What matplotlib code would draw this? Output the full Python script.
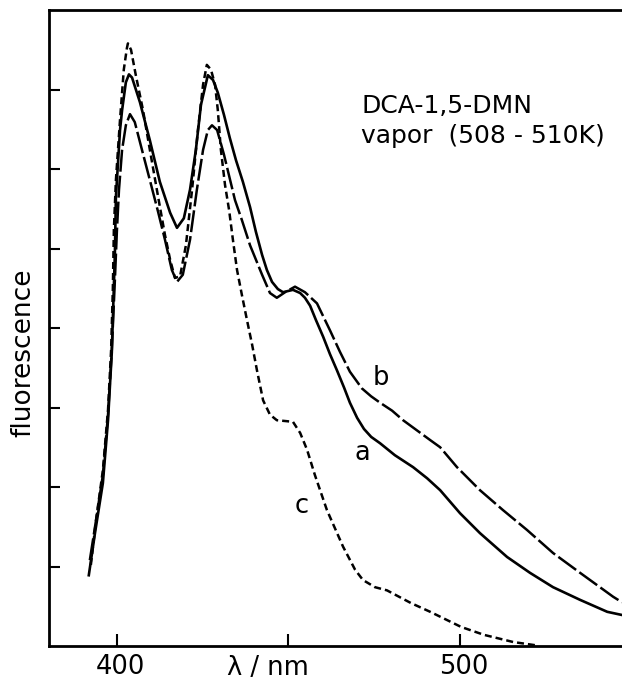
import matplotlib
matplotlib.use("Agg")
import matplotlib.pyplot as plt
import matplotlib.transforms as mtransforms

# ---- data (wavelength in nm, fluorescence in arbitrary units) ----
wl_a = [391.8, 393.6, 395.9, 397.4, 398.5, 399.4, 399.7, 400.9, 401.5, 402.6,
        403.5, 404.4, 406.7, 409.6, 412.5, 415.5, 417.5, 419.5, 421.3, 423.0,
        424.5, 426.5, 428.0, 429.4, 431.2, 432.9, 434.7, 436.7, 438.8, 440.5,
        442.3, 443.7, 445.2, 446.9, 448.4, 451.3, 453.4, 454.8, 456.3, 458.0,
        460.1, 462.1, 464.1, 466.2, 467.9, 470.0, 472.0, 474.1, 476.7, 481.0,
        486.3, 490.4, 494.2, 500.0, 505.8, 513.7, 520.4, 527.1, 535.0, 542.9,
        547.2]
fl_a = [0.89, 1.42, 2.05, 2.84, 3.69, 4.94, 5.65, 6.49, 6.74, 7.09,
        7.19, 7.15, 6.84, 6.36, 5.84, 5.45, 5.26, 5.38, 5.74, 6.24,
        6.81, 7.18, 7.12, 6.96, 6.68, 6.39, 6.11, 5.84, 5.52, 5.21,
        4.92, 4.73, 4.58, 4.49, 4.45, 4.48, 4.44, 4.38, 4.28, 4.10,
        3.89, 3.67, 3.47, 3.25, 3.06, 2.87, 2.73, 2.63, 2.55, 2.40,
        2.25, 2.11, 1.96, 1.67, 1.42, 1.12, 0.92, 0.74, 0.58, 0.43,
        0.39]

wl_b = [392.1, 393.9, 395.9, 397.4, 398.5, 399.4, 400.0, 400.6, 401.5, 402.6,
        403.8, 405.2, 407.3, 409.6, 412.0, 414.0, 416.0, 417.5, 419.2, 421.3,
        423.3, 425.1, 426.5, 427.7, 429.2, 431.2, 434.4, 436.4, 438.8, 442.3,
        444.6, 446.6, 449.0, 451.9, 454.8, 458.3, 462.1, 465.0, 467.9, 471.4,
        474.1, 476.7, 480.2, 483.4, 491.3, 494.2, 499.1, 505.8, 512.5, 519.5,
        527.1, 535.0, 544.6, 547.2]
fl_b = [1.08, 1.58, 2.15, 2.91, 3.72, 4.60, 5.23, 5.74, 6.24, 6.55,
        6.69, 6.59, 6.24, 5.86, 5.46, 5.11, 4.73, 4.58, 4.67, 5.11,
        5.74, 6.24, 6.49, 6.55, 6.49, 6.18, 5.61, 5.36, 5.04, 4.67,
        4.44, 4.38, 4.45, 4.52, 4.45, 4.31, 3.97, 3.70, 3.45, 3.24,
        3.14, 3.06, 2.96, 2.84, 2.59, 2.50, 2.25, 1.96, 1.71, 1.46,
        1.17, 0.92, 0.62, 0.55]

wl_c = [392.4, 393.9, 395.9, 397.4, 398.3, 398.8, 399.1, 399.7, 400.9, 402.0,
        402.9, 403.2, 404.1, 405.5, 407.6, 409.6, 412.0, 414.0, 415.5, 416.9,
        418.4, 420.1, 421.9, 423.6, 425.1, 426.2, 427.4, 428.6, 429.4, 430.3,
        431.5, 432.7, 433.8, 435.0, 436.4, 437.9, 439.4, 440.8, 442.6, 444.6,
        446.6, 449.0, 451.3, 453.4, 455.4, 457.7, 461.2, 465.9, 469.4, 471.7,
        475.2, 478.7, 485.7, 491.3, 500.3, 507.0, 515.5, 521.9]
fl_c = [1.02, 1.58, 2.21, 2.97, 3.72, 4.48, 5.23, 5.86, 6.62, 7.25,
        7.52, 7.58, 7.50, 7.18, 6.74, 6.24, 5.65, 5.17, 4.86, 4.63,
        4.65, 5.04, 5.74, 6.49, 7.06, 7.31, 7.25, 7.06, 6.74, 6.24,
        5.80, 5.48, 5.11, 4.73, 4.42, 4.10, 3.79, 3.47, 3.09, 2.91,
        2.84, 2.83, 2.82, 2.68, 2.47, 2.15, 1.71, 1.25, 0.96, 0.83,
        0.74, 0.70, 0.54, 0.43, 0.24, 0.14, 0.05, 0.01]

xticks = [400, 450, 500]
xticklabels = ["400", "", "500"]
yticks = [1, 2, 3, 4, 5, 6, 7]
curve_labels = [("a", 471.4, 2.34), ("b", 477.0, 3.28), ("c", 453.9, 1.67)]

# ---- figure ----
plt.rcParams['font.family'] = ['DejaVu Sans']
W, H = 622, 681
fig = plt.figure(figsize=(W / 100, H / 100), dpi=100)
L, R, T, B = 49, 622, 10, 646
ax = fig.add_axes([L / W, (H - B) / H, (R - L) / W, (B - T) / H])

ax.plot(wl_a, fl_a, color="black", lw=1.9, solid_joinstyle="round")
ax.plot(wl_b, fl_b, color="black", lw=1.8, dashes=(8.8, 1.6))
ax.plot(wl_c, fl_c, color="black", lw=1.8, dashes=(2.8, 1.6))

ax.set_xlim(380.2, 547.2)
ax.set_ylim(0, 8)

for s in ["left", "top", "bottom"]:
    ax.spines[s].set_linewidth(2.0)
ax.spines["right"].set_visible(False)

ax.set_xticks(xticks)
ax.set_xticklabels(xticklabels, fontsize=18.5)
ax.set_yticks(yticks)
ax.set_yticklabels([])
ax.tick_params(axis="x", direction="in", length=9, width=1.5, pad=5.5)
ax.tick_params(axis="y", direction="in", length=7.7, width=1.5)

shift = mtransforms.ScaledTranslation(4 / 100, 0, fig.dpi_scale_trans)
for lbl in ax.get_xticklabels():
    lbl.set_transform(lbl.get_transform() + shift)

for lab, x, y in curve_labels:
    ax.text(x, y, lab, fontsize=18.5, ha="center", va="baseline")

fig.text(361 / W, (H - 113) / H, "DCA-1,5-DMN", fontsize=18, ha="left", va="baseline")
fig.text(361 / W, (H - 143) / H, "vapor  (508 - 510K)", fontsize=18, ha="left", va="baseline")
fig.text(268 / W, (H - 668) / H, "λ / nm", fontsize=18.5, ha="center", va="center")
fig.text(23 / W, (H - 353) / H, "fluorescence", fontsize=19, ha="center", va="center",
         rotation=90)

fig.savefig("out.png", dpi=100)
